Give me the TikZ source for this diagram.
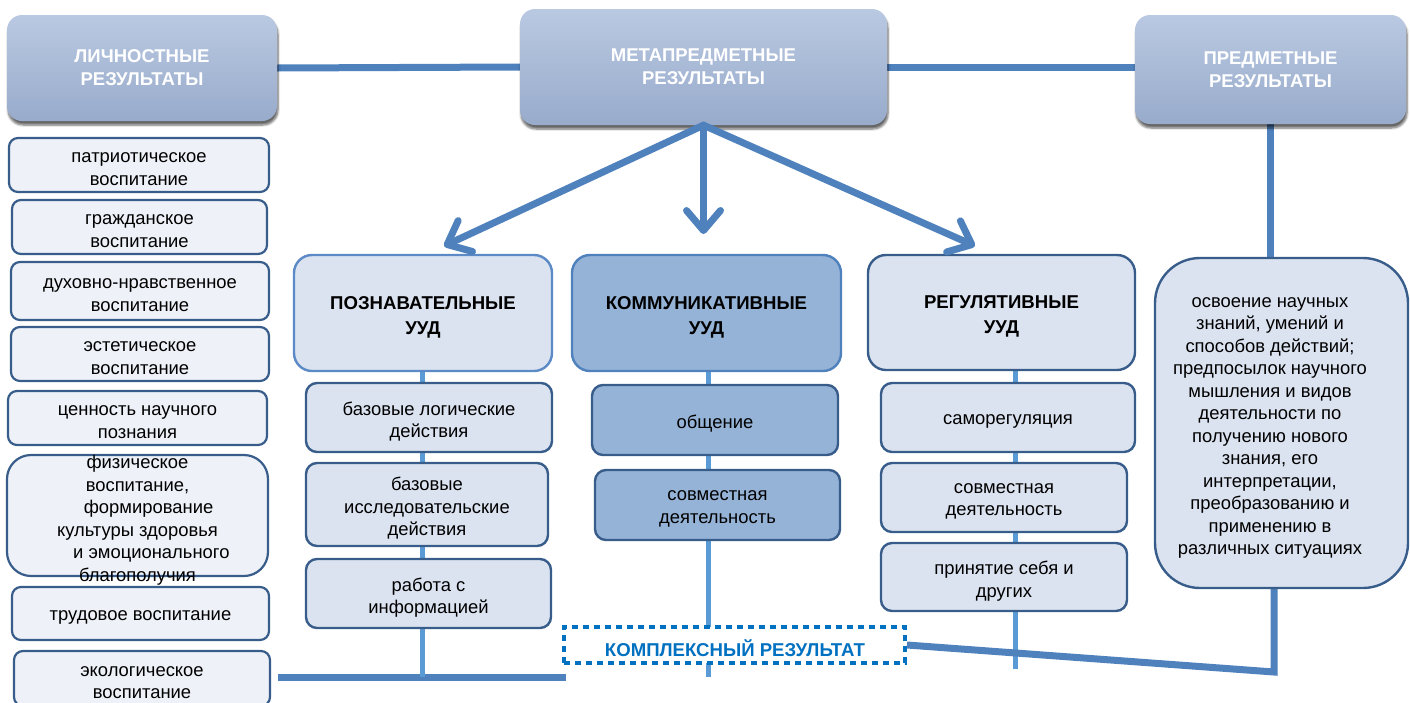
\documentclass[tikz,border=0pt]{standalone}
\usepackage{fontspec}
\setmainfont{Liberation Sans}
\usetikzlibrary{arrows.meta,shadows.blur,calc}
\pgfdeclarelayer{bg}\pgfsetlayers{bg,main}
\definecolor{cDark}{HTML}{4F81BD}
\definecolor{cLight}{HTML}{5B9BD5}
\definecolor{bDark}{HTML}{385D8A}
\definecolor{bMid}{HTML}{5B8AC6}
\definecolor{fPale}{HTML}{EEF2F8}
\definecolor{fLight}{HTML}{DCE3F0}
\definecolor{fMid}{HTML}{95B3D7}
\definecolor{hTop}{HTML}{BAC9E2}
\definecolor{hBot}{HTML}{98ABCB}
\definecolor{kBlue}{HTML}{0070C0}
% box with separately placed text: style, name, x, y, w, h, text style, text
\newcommand\bx[8]{%
  \node[#1, minimum width=#5, minimum height=#6] (#2) at (#3,#4) {};
  \node[#7] (#2t) at ($(#2)+(0,4)$) {#8};}
\begin{document}
\begin{tikzpicture}[x=1pt,y=-1pt,
  hdr/.style={rounded corners=15pt, top color=hTop, bottom color=hBot, draw=none,
    text=white, align=center, inner sep=0pt,
    font=\bfseries\fontsize{18.5}{23}\selectfont,
    blur shadow={shadow xshift=1pt, shadow yshift=-4pt, shadow blur steps=6, shadow opacity=60}},
  body/.style={align=center, inner sep=0pt, font=\fontsize{18.4}{22.5}\selectfont},
  btxt/.style={align=center, inner sep=0pt, font=\bfseries\fontsize{18.6}{25}\selectfont},
  pbox/.style={rounded corners=9pt, draw=bDark, line width=2.2pt, fill=fPale},
  ubox/.style={rounded corners=18pt, line width=2.4pt},
  sbox/.style={rounded corners=11pt, draw=bDark, line width=2.4pt},
  conn/.style={draw=cDark, line width=7pt},
  lconn/.style={draw=cLight, line width=5pt},
  arr/.style={draw=cDark, line width=7pt, line cap=round,
    -{Straight Barb[length=20pt,width=34pt,round]}}
]
\useasboundingbox (0,0) rectangle (1410,702);
% headers
\node[hdr, minimum width=270, minimum height=106] (h1) at (142,68) {ЛИЧНОСТНЫЕ\\РЕЗУЛЬТАТЫ};
\node[hdr, minimum width=367, minimum height=116] (h2) at (703.5,67) {МЕТАПРЕДМЕТНЫЕ\\РЕЗУЛЬТАТЫ};
\node[hdr, minimum width=271, minimum height=109] (h3) at (1270.5,69.5) {ПРЕДМЕТНЫЕ\\РЕЗУЛЬТАТЫ};
% left column
\bx{pbox}{p1}{139}{165}{260}{54}{body}{патриотическое\\воспитание}
\bx{pbox}{p2}{139.5}{227}{255}{54}{body}{гражданское\\воспитание}
\bx{pbox}{p3}{140}{291}{258}{58}{body}{духовно-нравственное\\воспитание}
\bx{pbox}{p4}{140}{354}{258}{54}{body}{эстетическое\\воспитание}
\bx{pbox}{p5}{137.5}{418}{259}{54}{body}{ценность научного\\познания}
\node[pbox, rounded corners=24pt, minimum width=261, minimum height=121] (p6) at (137.5,515.5) {};
\node[body] (p6t) at (137.5,520) {физическое\\воспитание,\\\hspace*{1.2em}формирование\\культуры здоровья\\\hspace*{1.5em}и эмоционального\\благополучия};
\bx{pbox}{p7}{140.5}{613.5}{257}{53}{body}{трудовое воспитание}
\bx{pbox}{p8}{142}{678.5}{256}{55}{body}{экологическое\\воспитание}
% UUD headers
\bx{ubox, draw=bMid, fill=fLight}{u1}{423}{313}{258}{116}{btxt}{ПОЗНАВАТЕЛЬНЫЕ\\УУД}
\bx{ubox, draw=cDark, fill=fMid}{u2}{706.5}{313}{269}{116}{btxt}{КОММУНИКАТИВНЫЕ\\УУД}
\bx{ubox, draw=bDark, fill=fLight}{u3}{1001.5}{312.5}{267}{115}{btxt}{РЕГУЛЯТИВНЫЕ\\УУД}
% big right box
\node[sbox, rounded corners=45pt, fill=fLight, minimum width=253, minimum height=330] (big) at (1281.5,423) {};
\node[body] (bigt) at (1270,428) {освоение научных\\знаний, умений и\\способов действий;\\предпосылок научного\\мышления и видов\\деятельности по\\получению нового\\знания, его\\интерпретации,\\преобразованию и\\применению в\\различных ситуациях};
% sub boxes
\bx{sbox, fill=fLight}{a1}{429}{417.5}{246}{69}{body}{базовые логические\\действия}
\bx{sbox, fill=fLight}{a2}{427}{504.5}{242}{83}{body}{базовые\\исследовательские\\действия}
\bx{sbox, fill=fLight}{a3}{428.5}{593.5}{245}{69}{body}{работа с\\информацией}
\bx{sbox, fill=fMid}{b1}{715}{420}{246}{70}{body}{общение}
\bx{sbox, fill=fMid}{b2}{717.5}{505}{245}{70}{body}{совместная\\деятельность}
\bx{sbox, fill=fLight}{c1}{1008}{417.5}{254}{69}{body}{саморегуляция}
\bx{sbox, fill=fLight}{c2}{1004}{497.5}{246}{69}{body}{совместная\\деятельность}
\bx{sbox, fill=fLight}{c3}{1004}{577}{246}{68}{body}{принятие себя и\\других}
% complex result
\node[draw=kBlue, fill=white, line width=4pt, dash pattern=on 6pt off 5pt,
  minimum width=341, minimum height=36, inner sep=0pt] (k) at (734.5,645) {};
\node[text=kBlue, inner sep=0pt, font=\bfseries\fontsize{18.6}{20}\selectfont] (kt) at (735,648) {КОМПЛЕКСНЫЙ РЕЗУЛЬТАТ};
% coordinates
\coordinate (t1) at (444,246);
\coordinate (t2) at (703.5,234);
\coordinate (t3) at (975,246);
\coordinate (bl) at (278,677);
\coordinate (br) at (566,677);
\coordinate (rc) at (1274,672);
\begin{pgfonlayer}{bg}
\draw[conn] (h1.east) -- (h2.west);
\draw[conn] (h2.east) -- (h2.east -| h3.west);
\draw[conn] (h3.south) -- (h3.south |- big.north);
\draw[conn] (bl) -- (br);
\draw[lconn] ([xshift=-1pt]u1.south) -- ([xshift=-1pt]u1.south |- bl);
\draw[lconn] ([xshift=1.5pt]u2.south) -- ([xshift=1.5pt]u2.south |- br);
\draw[lconn] ([xshift=13.5pt]u3.south) -- ([xshift=13.5pt]u3.south |- 0,669);
\draw[conn] (k.east) -- (rc) -- (rc |- big.south);
\end{pgfonlayer}
\draw[arr] (h2.south) -- (t1);
\draw[arr] (h2.south) -- (t2);
\draw[arr] (h2.south) -- (t3);
\end{tikzpicture}
\end{document}
